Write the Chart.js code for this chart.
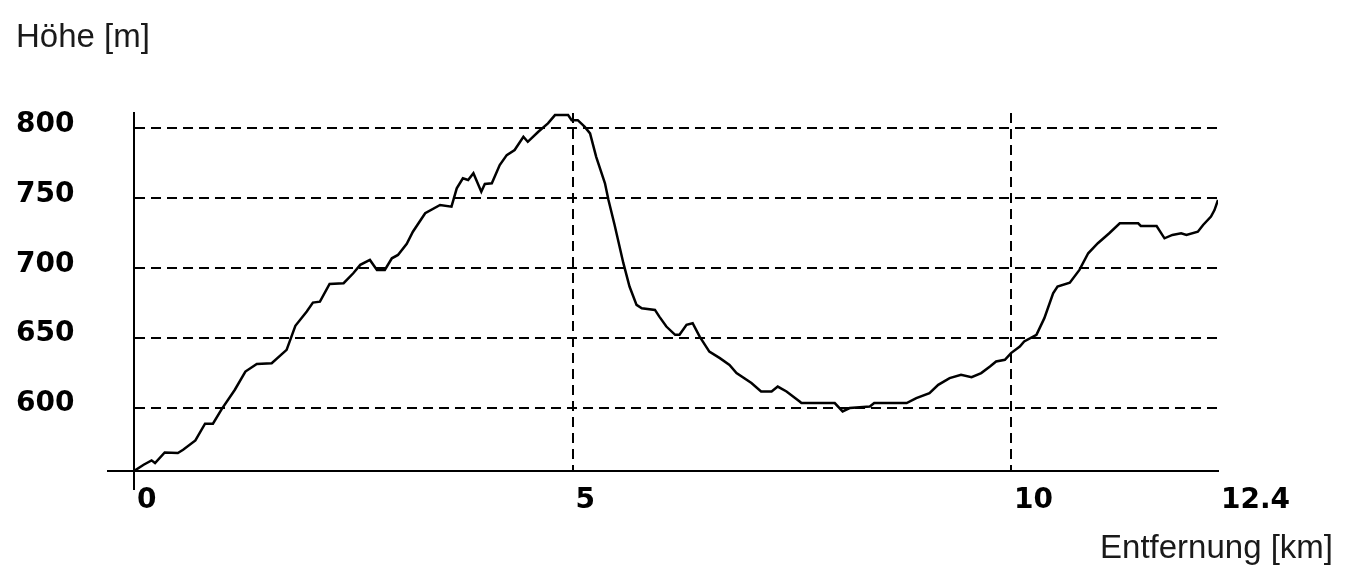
<!DOCTYPE html>
<html>
<head>
<meta charset="utf-8">
<script src="https://cdn.jsdelivr.net/npm/chart.js@4.4.0/dist/chart.umd.min.js"></script>
<style>
  html, body { margin: 0; background: #fff; }
  #wrap { width: 1346px; height: 579px; }
</style>
</head>
<body>
<div id="wrap"><canvas id="profil"></canvas></div>
<script>
// Höhenprofil: Entfernung (km) / Höhe (m)
const distKm = [0, 0.11, 0.2, 0.24, 0.35, 0.5, 0.56, 0.7, 0.81, 0.9,
  1.0, 1.15, 1.27, 1.4, 1.57, 1.74, 1.84, 1.97, 2.04, 2.12,
  2.23, 2.39, 2.5, 2.58, 2.69, 2.77, 2.86, 2.94, 3.01, 3.11,
  3.18, 3.32, 3.49, 3.62, 3.68, 3.75, 3.81, 3.87, 3.96, 4.0,
  4.08, 4.17, 4.25, 4.34, 4.44, 4.49, 4.61, 4.72, 4.8, 4.95,
  4.99, 5.06, 5.14, 5.2, 5.27, 5.37, 5.41, 5.48, 5.58, 5.65,
  5.73, 5.79, 5.94, 5.99, 6.07, 6.17, 6.22, 6.3, 6.37, 6.45,
  6.56, 6.68, 6.79, 6.87, 7.04, 7.15, 7.27, 7.34, 7.44, 7.59,
  7.61, 7.99, 8.08, 8.16, 8.39, 8.44, 8.81, 8.92, 9.07, 9.17,
  9.3, 9.43, 9.55, 9.66, 9.76, 9.83, 9.93, 10.0, 10.1, 10.15,
  10.29, 10.38, 10.48, 10.53, 10.67, 10.78, 10.88, 10.99, 11.12, 11.24,
  11.45, 11.48, 11.66, 11.75, 11.84, 11.94, 12.0, 12.13, 12.19, 12.28,
  12.32, 12.36];
const hoeheM = [555, 559.5, 562.6, 560.7, 568.3, 567.9, 570.2, 576.9, 588.8, 588.8,
  599.3, 613.1, 626.1, 631.6, 632.1, 641.6, 658.8, 669, 675.4, 676.1,
  688.8, 689.3, 696.4, 702.4, 705.9, 698.8, 698.8, 707.1, 709.5, 717.4,
  726.1, 739.3, 745.2, 744, 757.1, 764.3, 763.1, 767.9, 754.7, 760.2,
  760.7, 773.8, 780.9, 784.5, 794, 790.4, 797.6, 803.6, 809.5, 809.5,
  805.9, 805.9, 801.1, 796.4, 779.7, 760.7, 748.8, 730.9, 703.6, 686.9,
  673.8, 671.4, 670.2, 665.4, 658.3, 652.4, 652.4, 659.5, 660.7, 651.1,
  640.4, 635.7, 630.9, 625, 617.9, 611.9, 611.9, 615.4, 611.9, 604.7,
  603.6, 603.6, 597.6, 600, 601.1, 603.6, 603.6, 607.1, 610.7, 616.6,
  621.4, 623.8, 622.1, 625, 629.7, 633.3, 634.5, 639.3, 644, 647.6,
  652.4, 664.3, 682.1, 686.9, 689.7, 698.8, 710.7, 717.9, 725, 732.1,
  732.1, 730.2, 730.2, 721.4, 723.8, 725, 723.8, 726.1, 730.9, 736.9,
  741.6, 748.8];

const xTicks = [0, 5, 10, 12.36];
const xTickLabels = ['0', '5', '10', '12.4'];
const yTicks = [555, 600, 650, 700, 750, 800];
const yTickLabels = ['', '600', '650', '700', '750', '800'];

const ink = '#000';
const tickFont = { family: 'DejaVu Sans', size: 28, weight: 'bold', lineHeight: 1 };
const titleFont = { family: 'Liberation Sans', size: 33, weight: 'normal', lineHeight: 1.2 };

const punkte = distKm.map((d, i) => ({ x: d, y: hoeheM[i] }));

new Chart(document.getElementById('profil'), {
  type: 'line',
  data: {
    datasets: [{
      data: punkte,
      borderColor: ink,
      borderWidth: 2.5,
      pointRadius: 0,
      tension: 0,
      fill: false
    }]
  },
  options: {
    responsive: true,
    maintainAspectRatio: false,
    animation: false,
    layout: { padding: { left: 16, right: 13, top: 0, bottom: 0 } },
    plugins: {
      legend: { display: false },
      tooltip: { enabled: false },
      title: {
        display: true,
        text: 'Höhe [m]',
        align: 'start',
        color: '#1a1a1a',
        font: titleFont,
        padding: { top: 18, bottom: 55.4 }
      },
      subtitle: {
        display: true,
        text: 'Entfernung [km]',
        position: 'bottom',
        align: 'end',
        color: '#1a1a1a',
        font: titleFont,
        padding: { top: 12.7, bottom: 10.7 }
      }
    },
    scales: {
      x: {
        type: 'linear',
        min: 0,
        max: 12.36,
        afterBuildTicks: s => { s.ticks = xTicks.map(v => ({ value: v })); },
        afterFit: s => { s.height = 45; s.paddingRight = 128; },
        ticks: {
          autoSkip: false,
          maxRotation: 0,
          align: 'start',
          labelOffset: 3,
          padding: -3,
          color: ink,
          font: tickFont,
          callback: (v, i) => xTickLabels[i]
        },
        grid: {
          color: c => (c.tick && (c.tick.value === 5 || c.tick.value === 10)) ? ink : 'rgba(0,0,0,0)',
          lineWidth: 2,
          tickLength: 19,
          tickWidth: 2,
          tickBorderDash: [],
          tickColor: c => (c.tick && c.tick.value === 0) ? ink : 'rgba(0,0,0,0)'
        },
        border: { display: true, color: ink, width: 2, dash: [10, 6] }
      },
      y: {
        min: 555,
        max: 811,
        afterBuildTicks: s => { s.ticks = yTicks.map(v => ({ value: v })); },
        afterFit: s => { s.width = 118; s.paddingTop = 0; s.paddingBottom = 0; },
        ticks: {
          crossAlign: 'far',
          labelOffset: -4,
          color: ink,
          font: tickFont,
          callback: (v, i) => yTickLabels[i]
        },
        grid: {
          color: c => (c.tick && c.tick.value > 555) ? ink : 'rgba(0,0,0,0)',
          lineWidth: 2,
          tickLength: 27,
          tickWidth: 2,
          tickBorderDash: [],
          tickColor: c => (c.tick && c.tick.value === 555) ? ink : 'rgba(0,0,0,0)'
        },
        border: { display: true, color: ink, width: 2, dash: [10, 6] }
      }
    }
  }
});
</script>
</body>
</html>
